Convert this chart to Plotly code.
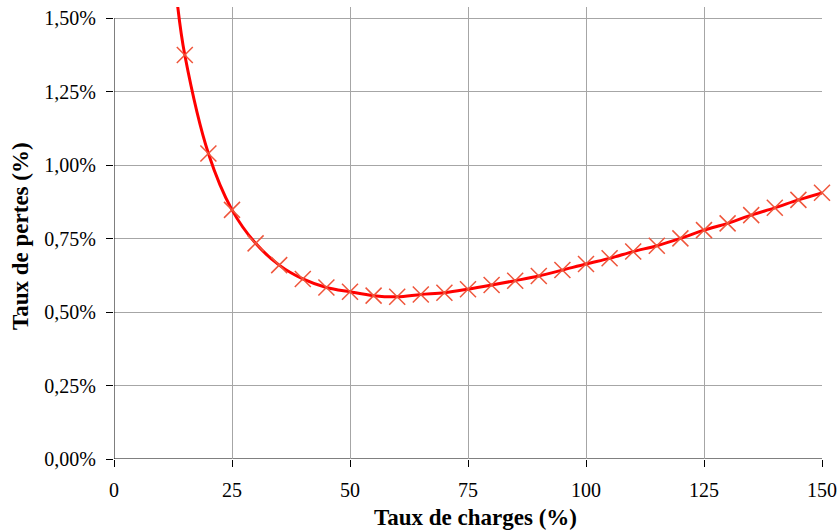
import plotly.graph_objects as go

# Data
charge = [15, 20, 25, 30, 35, 40, 45, 50, 55, 60, 65, 70, 75, 80, 85, 90, 95,
          100, 105, 110, 115, 120, 125, 130, 135, 140, 145, 150]
pertes = [1.375, 1.040, 0.848, 0.734, 0.660, 0.613, 0.584, 0.569, 0.556, 0.552,
          0.560, 0.566, 0.578, 0.592, 0.607, 0.623, 0.643, 0.664, 0.683, 0.706,
          0.726, 0.751, 0.779, 0.802, 0.830, 0.855, 0.882, 0.906]
# start of the fitted curve (leaves the plot at the top)
courbe_debut_x = [13.5]
courbe_debut_y = [1.54]

x_ticks = [0, 25, 50, 75, 100, 125, 150]
x_ticktext = ["0", "25", "50", "75", "100", "125", "150"]
y_ticks = [0, 0.25, 0.5, 0.75, 1.0, 1.25, 1.5]
y_ticktext = ["0,00%", "0,25%", "0,50%", "0,75%", "1,00%", "1,25%", "1,50%"]

FONT = "Liberation Serif, Times New Roman, serif"

fig = go.Figure()

fig.add_trace(go.Scatter(
    x=courbe_debut_x + charge, y=courbe_debut_y + pertes,
    mode="lines", line=dict(color="#FF0000", width=3, shape="spline", smoothing=1.0),
    showlegend=False, hoverinfo="skip"))

fig.add_trace(go.Scatter(
    x=charge, y=pertes, mode="markers",
    marker=dict(symbol="x-thin-open", size=16,
                line=dict(color="rgba(255,70,70,0.6)", width=1.5)),
    showlegend=False, cliponaxis=False))

# left axis line from 0 to 1.5
fig.add_shape(type="line", xref="x", yref="y", x0=0, x1=0, y0=0, y1=1.5,
              line=dict(color="black", width=1), layer="above")
# bottom axis line
fig.add_shape(type="line", xref="x", yref="y", x0=0, x1=150, y0=0, y1=0,
              line=dict(color="#808080", width=2), layer="below")

fig.add_annotation(text="<b>Taux de charges (%)</b>", xref="paper", yref="paper",
                   x=0.51, y=-0.1286, xanchor="center", yanchor="middle",
                   showarrow=False, font=dict(family=FONT, size=23, color="black"))
fig.add_annotation(text="<b>Taux de pertes (%)</b>", xref="paper", yref="paper",
                   x=-0.133, y=0.493, xanchor="center", yanchor="middle",
                   textangle=-90, showarrow=False,
                   font=dict(family=FONT, size=23, color="black"))

fig.update_layout(
    width=839, height=532,
    margin=dict(l=114, r=17, t=7, b=73),
    paper_bgcolor="white", plot_bgcolor="white",
    font=dict(family=FONT, size=20, color="black"),
    xaxis=dict(range=[0, 150], tickvals=x_ticks, ticktext=x_ticktext,
               automargin=False, ticklabeloverflow="allow",
               showgrid=True, gridcolor="#A6A6A6", gridwidth=1,
               zeroline=False, showline=False,
               ticks="outside", ticklen=7, tickcolor="black",
               ticklabelstandoff=6,
               tickfont=dict(family=FONT, size=20)),
    yaxis=dict(range=[0, 1.5385], tickvals=y_ticks, ticktext=y_ticktext,
               automargin=False, ticklabeloverflow="allow",
               showgrid=True, gridcolor="#A6A6A6", gridwidth=1,
               zeroline=False, showline=False,
               ticks="outside", ticklen=7, tickcolor="black",
               ticklabelstandoff=6,
               tickfont=dict(family=FONT, size=20)),
)

# remove the browser's default 8px body margin so the figure sits at (0, 0)
fig.write_html("out.html", config={"displayModeBar": False},
               post_script="document.body.style.margin='0px';")
